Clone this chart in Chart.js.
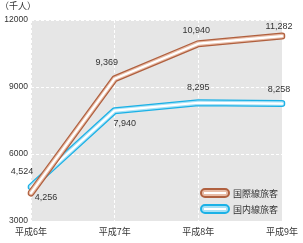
<!DOCTYPE html>
<html>
<head>
<meta charset="utf-8">
<script src="https://cdn.jsdelivr.net/npm/chart.js@4/dist/chart.umd.min.js"></script>
<style>
  html, body { margin: 0; padding: 0; background: #fff; }
  #wrap { width: 303px; height: 243px; position: relative; }
</style>
</head>
<body>
<div id="wrap"><canvas id="myChart"></canvas></div>
<script>
const years = ["平成6年", "平成7年", "平成8年", "平成9年"];
const intlValues = [4256, 9369, 10940, 11282];
const domValues = [4524, 7940, 8295, 8258];
const seriesNames = ["国際線旅客", "国内線旅客"];
const yTicks = [3000, 6000, 9000, 12000];
const unitLabel = "（千人）";

// label offsets relative to each point (dx, dy), text centered
const intlLabelOffsets = [[15, 5], [-8, -16], [-2, -13], [-3, -10]];
const domLabelOffsets = [[-9, -15], [10, 13], [0, -15], [-3, -14]];

const FONT = "'Liberation Sans', 'Noto Sans CJK JP', sans-serif";
const TEXT = "#333";

const tubes = [
  { name: seriesNames[0], data: intlValues, offs: intlLabelOffsets,
    outer: "#b0603f", mid: "#e8bca7" },
  { name: seriesNames[1], data: domValues, offs: domLabelOffsets,
    outer: "#1bb1e6", mid: "#a6e0f5" },
];

const datasets = [];
tubes.forEach((t, i) => {
  // lower order draws on top; intl tube sits above domestic
  const base = i === 0 ? 0 : 10;
  datasets.push({ data: t.data, borderColor: t.outer, borderWidth: 7, order: base + 3 });
  datasets.push({ data: t.data, borderColor: t.mid, borderWidth: 4.5, order: base + 2 });
  datasets.push({ data: t.data, borderColor: "#ffffff", borderWidth: 2.2, order: base + 1 });
});
datasets.forEach((d) => {
  d.pointRadius = 0;
  d.tension = 0;
  d.borderCapStyle = "round";
  d.borderJoinStyle = "round";
  d.fill = false;
});

const bgPlugin = {
  id: "bg",
  beforeDraw(chart) {
    const { ctx, chartArea: a } = chart;
    ctx.save();
    ctx.fillStyle = "#e6e6e6";
    ctx.fillRect(a.left, a.top, a.right - a.left, a.bottom - a.top);
    ctx.restore();
  },
};

const labelPlugin = {
  id: "labels",
  afterDraw(chart) {
    const { ctx } = chart;
    const xs = chart.scales.x;
    const ys = chart.scales.y;
    ctx.save();
    ctx.font = "9px " + FONT;
    ctx.fillStyle = TEXT;
    ctx.textAlign = "center";
    ctx.textBaseline = "middle";
    tubes.forEach((t) => {
      t.data.forEach((v, j) => {
        const x = xs.getPixelForValue(j) + t.offs[j][0];
        const y = ys.getPixelForValue(v) + t.offs[j][1];
        ctx.fillText(v.toLocaleString("en-US"), x, y);
      });
    });

    // unit label
    ctx.textAlign = "left";
    ctx.fillText(unitLabel, 0, 7);

    // legend, bottom right inside plot
    tubes.forEach((t, i) => {
      const lx = 201, ly = 193 + i * 16, w = 28, h = 8;
      ctx.beginPath();
      ctx.roundRect(lx, ly - h / 2, w, h, h / 2);
      ctx.fillStyle = t.mid;
      ctx.fill();
      ctx.lineWidth = 2;
      ctx.strokeStyle = t.outer;
      ctx.stroke();
      ctx.beginPath();
      ctx.moveTo(lx + 3, ly);
      ctx.lineTo(lx + w - 3, ly);
      ctx.lineWidth = 2;
      ctx.strokeStyle = "#ffffff";
      ctx.stroke();
      ctx.fillStyle = TEXT;
      ctx.font = "9px 'Noto Sans CJK JP', sans-serif";
      ctx.fillText(t.name, lx + w + 4, ly + 0.5);
    });
    ctx.restore();
  },
};

new Chart(document.getElementById("myChart"), {
  type: "line",
  plugins: [bgPlugin, labelPlugin],
  data: { labels: years, datasets: datasets },
  options: {
    responsive: true,
    maintainAspectRatio: false,
    animation: false,
    events: [],
    layout: { padding: { top: 20, right: 17, left: 0, bottom: 0 } },
    plugins: { legend: { display: false }, tooltip: { enabled: false } },
    scales: {
      x: {
        offset: false,
        grid: { color: "#ffffff", lineWidth: 1, drawTicks: false },
        border: { display: false, dash: [3, 2] },
        ticks: {
          color: TEXT,
          font: { size: 9, family: "'Noto Sans CJK JP', sans-serif" },
          padding: 5,
          maxRotation: 0,
          autoSkip: false,
        },
        afterFit(s) { s.height = 22; },
      },
      y: {
        min: 3000,
        max: 12000,
        afterBuildTicks(s) { s.ticks = yTicks.map((v) => ({ value: v })); },
        grid: { color: "#ffffff", lineWidth: 1, drawTicks: false },
        border: { display: false, dash: [3, 2] },
        ticks: {
          color: TEXT,
          font: { size: 8.5, family: FONT },
          padding: 3,
          callback: (v) => String(v),
        },
        afterFit(s) { s.width = 31; },
      },
    },
  },
});
</script>
</body>
</html>
